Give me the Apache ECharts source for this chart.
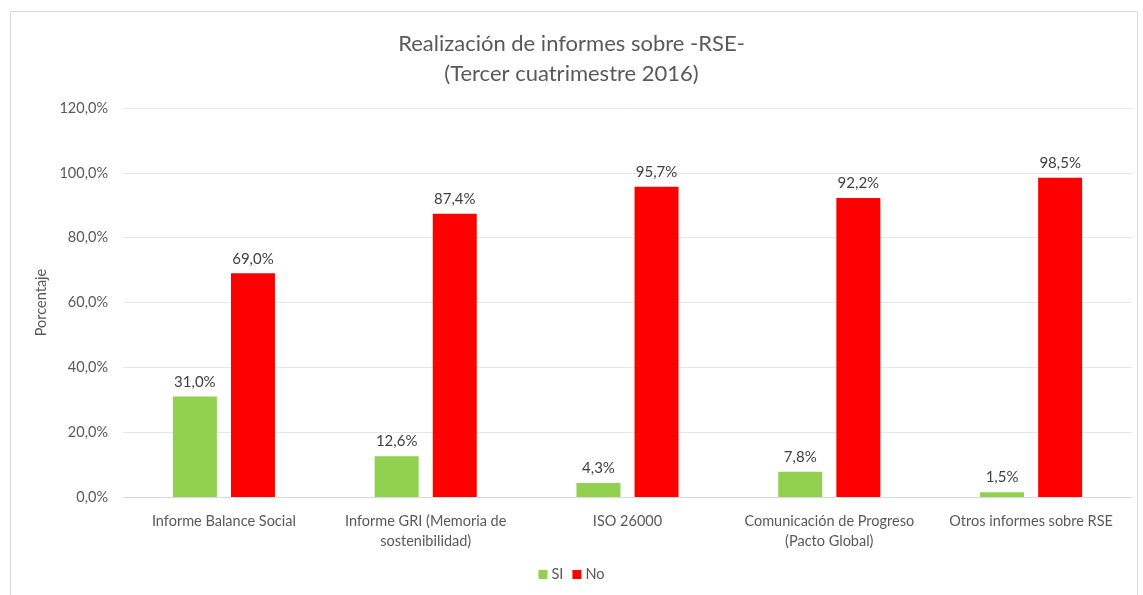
<!DOCTYPE html>
<html>
<head>
<meta charset="utf-8">
<script src="https://cdn.jsdelivr.net/npm/echarts@6/dist/echarts.min.js"></script>
<style>
  html, body { margin: 0; padding: 0; background: #fff; }
  #main { width: 1143px; height: 595px; }
</style>
</head>
<body>
<div id="main"></div>
<script>
// categorias y valores (%)
var categorias = [
    'Informe Balance Social',
    'Informe GRI (Memoria de\nsostenibilidad)',
    'ISO 26000',
    'Comunicación de Progreso\n(Pacto Global)',
    'Otros informes sobre RSE'
];
var valoresSi = [31.0, 12.6, 4.3, 7.8, 1.5];
var valoresNo = [69.0, 87.4, 95.7, 92.2, 98.5];
var ticksY = [0, 20, 40, 60, 80, 100, 120];

var fuente = 'Lato, "Open Sans", sans-serif';

function pct(v) {
    return v.toFixed(1).replace('.', ',') + '%';
}

var myChart = echarts.init(document.getElementById('main'));
myChart.setOption({
    animation: false,
    textStyle: { fontFamily: fuente },
    graphic: [{
        type: 'rect',
        shape: { x: 10.5, y: 11.5, width: 1127, height: 600 },
        style: { fill: 'none', stroke: '#d9d9d9', lineWidth: 1 },
        silent: true
    }],
    title: {
        text: 'Realización de informes sobre -RSE-\n(Tercer cuatrimestre 2016)',
        left: 'center',
        top: 24,
        textStyle: {
            fontFamily: fuente,
            fontSize: 22,
            fontWeight: 'normal',
            color: '#595959',
            lineHeight: 30
        }
    },
    legend: {
        bottom: 8,
        left: 'center',
        itemWidth: 9,
        itemHeight: 9,
        itemGap: 9,
        icon: 'rect',
        textStyle: { fontFamily: fuente, fontSize: 14.5, color: '#595959', padding: [0, 0, 0, -1] },
        data: ['SI', 'No']
    },
    grid: {
        left: 123,
        right: 11,
        top: 108,
        bottom: 98,
        containLabel: false
    },
    xAxis: {
        type: 'category',
        data: categorias,
        axisTick: { show: false },
        axisLine: { lineStyle: { color: '#d9d9d9' } },
        axisLabel: {
            color: '#595959',
            fontFamily: fuente,
            fontSize: 14.5,
            lineHeight: 20,
            margin: 14,
            interval: 0
        }
    },
    yAxis: {
        type: 'value',
        min: ticksY[0],
        max: ticksY[ticksY.length - 1],
        interval: 20,
        name: 'Porcentaje',
        nameLocation: 'middle',
        nameRotate: 90,
        nameGap: 70,
        nameTextStyle: { color: '#595959', fontFamily: fuente, fontSize: 14.5 },
        axisLine: { show: false },
        axisTick: { show: false },
        splitLine: { lineStyle: { color: '#e6e6e6' } },
        axisLabel: {
            color: '#595959',
            fontFamily: fuente,
            fontSize: 14.5,
            margin: 15,
            formatter: pct
        }
    },
    series: [
        {
            name: 'SI',
            type: 'bar',
            data: valoresSi,
            barWidth: 44,
            barGap: '32%',
            itemStyle: { color: '#92D050' },
            label: {
                show: true,
                position: 'top',
                distance: 7,
                color: '#404040',
                fontFamily: fuente,
                fontSize: 15,
                formatter: function (p) { return pct(p.value); }
            }
        },
        {
            name: 'No',
            type: 'bar',
            data: valoresNo,
            barWidth: 44,
            itemStyle: { color: '#FF0000' },
            label: {
                show: true,
                position: 'top',
                distance: 7,
                color: '#404040',
                fontFamily: fuente,
                fontSize: 15,
                formatter: function (p) { return pct(p.value); }
            }
        }
    ]
});
</script>
</body>
</html>
